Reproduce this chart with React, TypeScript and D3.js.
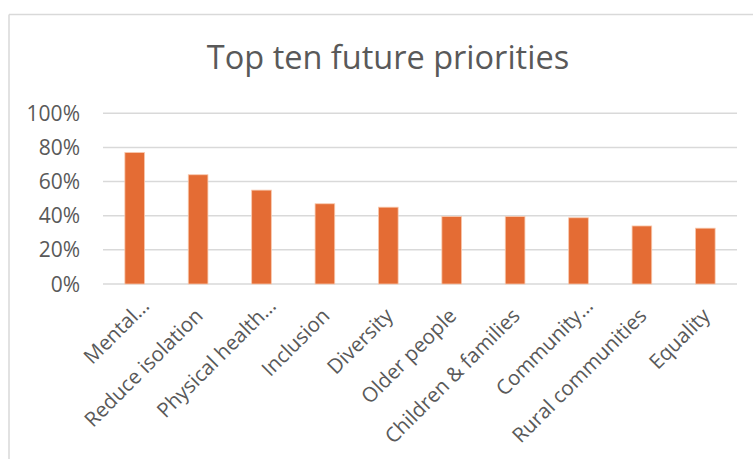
import React from "react";
import * as d3 from "d3";

const categories = [
  "Mental…",
  "Reduce isolation",
  "Physical health…",
  "Inclusion",
  "Diversity",
  "Older people",
  "Children & families",
  "Community…",
  "Rural communities",
  "Equality",
];
const values = [0.77, 0.64, 0.55, 0.47, 0.45, 0.395, 0.395, 0.388, 0.34, 0.327];
const yTicks = [0, 0.2, 0.4, 0.6, 0.8, 1.0];
const title = "Top ten future priorities";

const W = 753;
const H = 459;
const FONT = "'Open Sans', sans-serif";
const TEXT = "#595959";

export default function App() {
  const x = d3.scaleBand<string>().domain(categories).range([103, 737]).paddingInner(0.69).paddingOuter(0.345);
  const y = d3.scaleLinear().domain([0, 1]).range([284, 113.3]);
  const fmt = d3.format(".0%");
  return (
    <svg width={W} height={H} style={{ position: "absolute", left: 0, top: 0 }}>
      <rect x={0} y={0} width={W} height={H} fill="#fff" />
      <line x1={9} y1={14.5} x2={W} y2={14.5} stroke="#d9d9d9" strokeWidth={1.5} />
      <line x1={9} y1={14.5} x2={9} y2={H} stroke="#d9d9d9" strokeWidth={1.5} />
      <text x={388} y={69} textAnchor="middle" fontFamily={FONT} fontSize={32.5} fill={TEXT}>
        {title}
      </text>
      {yTicks.map((t) => (
        <g key={t}>
          <line x1={103} x2={737} y1={y(t)} y2={y(t)} stroke="#d9d9d9" strokeWidth={1.5} />
          <text x={80} y={y(t)} dy="0.36em" textAnchor="end" fontFamily={FONT} fontSize={21} fill={TEXT}>
            {fmt(t)}
          </text>
        </g>
      ))}
      {categories.map((c, i) => (
        <rect
          key={c}
          x={x(c)}
          y={y(values[i])}
          width={x.bandwidth()}
          height={y(0) - y(values[i])}
          fill="#e46c34"
          stroke="#f8c8ad"
          strokeWidth={0.8}
        />
      ))}
      {categories.map((c) => {
        const cx = (x(c) as number) + x.bandwidth() / 2 + 6;
        const cy = 317;
        return (
          <text
            key={c}
            x={cx}
            y={cy}
            dx={c.endsWith("…") ? 14 : 0}
            textAnchor="end"
            transform={`rotate(-45 ${cx} ${cy})`}
            fontFamily={FONT}
            fontSize={20.5}
            fill={TEXT}
          >
            {c}
          </text>
        );
      })}
    </svg>
  );
}
